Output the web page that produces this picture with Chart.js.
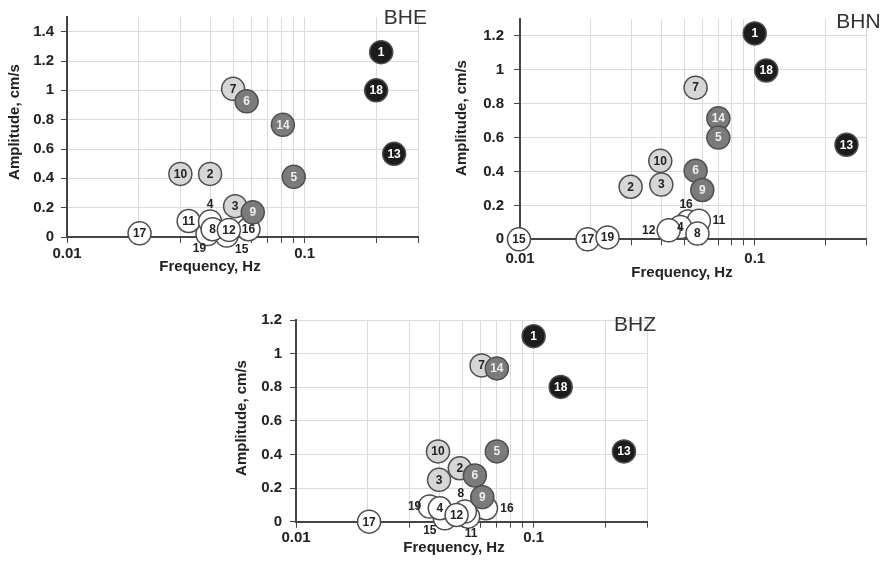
<!DOCTYPE html>
<html>
<head>
<meta charset="utf-8">
<script src="https://cdn.jsdelivr.net/npm/chart.js@4.4.1/dist/chart.umd.min.js"></script>
<style>
  body { margin: 0; background: #fff; width: 885px; height: 561px; position: relative; overflow: hidden; }
  .panel { position: absolute; }
</style>
</head>
<body>
<div class="panel" style="left:0;top:0"><canvas id="bhe" width="440" height="280"></canvas></div>
<div class="panel" style="left:440px;top:0"><canvas id="bhn" width="445" height="285"></canvas></div>
<div class="panel" style="left:220px;top:300px"><canvas id="bhz" width="440" height="261"></canvas></div>
<script>
// point numbers and their groups (group = fill colour)
const blackIds = [1, 18, 13];
const darkIds = [6, 14, 5, 9];
const lightIds = [7, 10, 2, 3];
const whiteIds = [17, 19, 15, 16, 11, 4, 8, 12];

// values listed by point number 1..19
const bheFreq = [0.21, 0.04, 0.051, 0.04, 0.09, 0.057, 0.05, 0.041, 0.0605, 0.03, 0.0325, 0.048, 0.238, 0.081, 0.047, 0.058, 0.0202, 0.2, 0.039];
const bheAmp  = [1.26, 0.43, 0.21, 0.105, 0.41, 0.925, 1.01, 0.053, 0.168, 0.43, 0.109, 0.048, 0.567, 0.765, 0.01, 0.053, 0.025, 1.0, 0.02];

const bhnFreq = [0.1, 0.0296, 0.04, 0.0482, 0.07, 0.056, 0.056, 0.057, 0.0598, 0.0396, 0.0578, 0.043, 0.246, 0.07, 0.0099, 0.052, 0.0194, 0.112, 0.0236];
const bhnAmp  = [1.215, 0.31, 0.323, 0.072, 0.6, 0.405, 0.895, 0.034, 0.291, 0.463, 0.11, 0.053, 0.558, 0.714, 0.0, 0.105, 0.0, 0.996, 0.011];

const bhzFreq = [0.1, 0.0489, 0.04, 0.0403, 0.07, 0.0566, 0.0604, 0.0514, 0.0608, 0.0396, 0.053, 0.0474, 0.24, 0.07, 0.0423, 0.063, 0.0203, 0.13, 0.0365];
const bhzAmp  = [1.104, 0.318, 0.249, 0.08, 0.418, 0.275, 0.93, 0.06, 0.146, 0.418, 0.03, 0.04, 0.418, 0.912, 0.02, 0.08, 0.0, 0.802, 0.09];

// tick values
const xTickValues = [0.01, 0.02, 0.03, 0.04, 0.05, 0.06, 0.07, 0.08, 0.09, 0.1, 0.2, 0.3];
const xTickLabels = [0.01, 0.1];

const FONT = '"Liberation Sans", Arial, Helvetica, sans-serif';

const groups = [
  { ids: blackIds, fill: '#1c1c1c', text: '#ffffff' },
  { ids: darkIds, fill: '#7b7b7b', text: '#eeeeee' },
  { ids: lightIds, fill: '#d6d6d6', text: '#222222' },
  { ids: whiteIds, fill: '#ffffff', text: '#222222' }
];

// draws point numbers, axis titles and the panel name
const numberLabels = {
  id: 'numberLabels',
  afterDatasetsDraw(chart, args, opts) {
    const ctx = chart.ctx;
    ctx.save();
    ctx.textAlign = 'center';
    ctx.textBaseline = 'middle';
    ctx.font = 'bold 12px ' + FONT;
    chart.data.datasets.forEach((ds, i) => {
      chart.getDatasetMeta(i).data.forEach((pt, j) => {
        const id = ds.data[j].id;
        const off = opts.offsets[id];
        ctx.fillStyle = off ? '#222' : ds.textColor;
        ctx.fillText(String(id), pt.x + (off ? off[0] : 0), pt.y + (off ? off[1] : 0) + 0.5);
      });
    });

    // axis titles
    ctx.fillStyle = '#222';
    ctx.font = 'bold 15px ' + FONT;
    ctx.fillText('Frequency, Hz', opts.xTitle[0], opts.xTitle[1]);
    ctx.save();
    ctx.translate(opts.yTitle[0], opts.yTitle[1]);
    ctx.rotate(-Math.PI / 2);
    ctx.fillText('Amplitude, cm/s', 0, 0);
    ctx.restore();

    ctx.font = '21px ' + FONT;
    ctx.fillStyle = '#333';
    ctx.textAlign = 'right';
    ctx.fillText(opts.name, chart.chartArea.right + opts.nameDx, opts.nameY);
    ctx.restore();
  }
};

function makeChart(canvasId, freq, amp, p) {
  const datasets = groups.map(g => ({
    data: g.ids.map(id => ({ x: freq[id - 1], y: amp[id - 1], id: id })),
    backgroundColor: g.fill,
    borderColor: '#4d4d4d',
    borderWidth: 1.5,
    pointRadius: 11.5,
    textColor: g.text,
    clip: false
  }));

  new Chart(document.getElementById(canvasId), {
    type: 'scatter',
    data: { datasets: datasets },
    plugins: [numberLabels],
    options: {
      responsive: false,
      animation: false,
      events: [],
      layout: { padding: { top: p.padTop, right: p.padRight, left: 0, bottom: 0 } },
      plugins: {
        legend: { display: false },
        tooltip: { enabled: false },
        numberLabels: {
          offsets: p.offsets, name: p.name, nameDx: p.nameDx, nameY: p.nameY,
          xTitle: p.xTitle, yTitle: p.yTitle
        }
      },
      scales: {
        x: {
          type: 'logarithmic',
          min: 0.01,
          max: 0.3,
          afterBuildTicks: s => { s.ticks = xTickValues.map(v => ({ value: v })); },
          afterFit: s => { s.height = p.xHeight; },
          ticks: {
            autoSkip: false,
            maxRotation: 0,
            padding: p.xTickPad,
            color: '#222',
            font: { family: FONT, size: 15, weight: 'bold' },
            callback: v => {
              const hit = xTickLabels.find(t => Math.abs(t - v) < 1e-9);
              return hit !== undefined ? String(hit) : '';
            }
          },
          grid: { color: '#dadada', tickColor: '#444', tickLength: 6, lineWidth: 1 },
          border: { color: '#444', width: 2 }
        },
        y: {
          min: 0,
          max: p.yMax,
          afterFit: s => { s.width = p.yWidth; },
          ticks: {
            stepSize: 0.1,
            padding: p.yTickPad,
            color: '#222',
            font: { family: FONT, size: 15, weight: 'bold' },
            callback: v => {
              const tenths = Math.round(v * 10);
              return tenths % 2 === 0 ? String(tenths / 10) : '';
            }
          },
          grid: { color: '#dadada', tickColor: '#444', tickLength: 6, lineWidth: 1 },
          border: { color: '#444', width: 2 }
        }
      }
    }
  });
}

makeChart('bhe', bheFreq, bheAmp, {
  name: 'BHE', nameDx: 9, nameY: 18,
  padTop: 17, padRight: 22, yWidth: 67, xHeight: 43, yMax: 1.5,
  xTickPad: 2, yTickPad: 7,
  xTitle: [210, 267], yTitle: [15, 122],
  offsets: { 4: [0, -17], 19: [-8, 14], 15: [15, 14] }
});

makeChart('bhn', bhnFreq, bhnAmp, {
  name: 'BHN', nameDx: 14, nameY: 22,
  padTop: 12.7, padRight: 18.3, yWidth: 80, xHeight: 45.7, yMax: 1.3,
  xTickPad: 5, yTickPad: 10,
  xTitle: [242, 273], yTitle: [22, 118],
  offsets: { 16: [-2, -17], 11: [20, 0], 12: [-20, 0] }
});

makeChart('bhz', bhzFreq, bhzAmp, {
  name: 'BHZ', nameDx: 9, nameY: 25,
  padTop: 20, padRight: 11.7, yWidth: 76, xHeight: 39.3, yMax: 1.2,
  xTickPad: 1, yTickPad: 8,
  xTitle: [234, 248], yTitle: [22, 118],
  offsets: { 19: [-15, 0], 8: [-4, -18], 15: [-15, 12], 11: [3, 17], 16: [21, 0] }
});
</script>
</body>
</html>
